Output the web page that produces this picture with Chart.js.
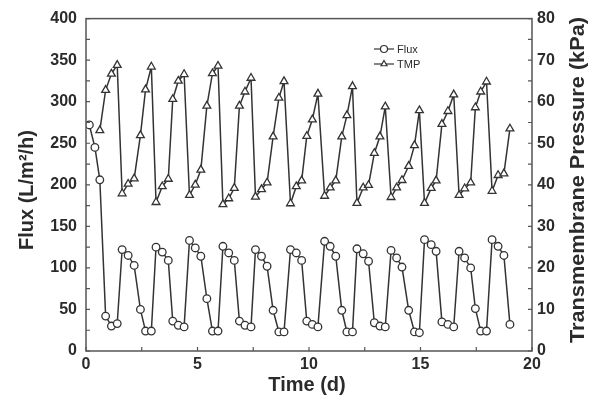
<!DOCTYPE html>
<html>
<head>
<meta charset="utf-8">
<script src="https://cdn.jsdelivr.net/npm/chart.js@4.4.1/dist/chart.umd.min.js"></script>
<style>
  html, body { margin: 0; padding: 0; background: #fff; }
  #wrap { width: 589px; height: 412px; }
</style>
</head>
<body>
<div id="wrap"><canvas id="chart"></canvas></div>
<script>
// sampling times (d), shared by both series
const timeDays = [
  0.15, 0.40, 0.62, 0.88, 1.14, 1.40, 1.62, 1.89, 2.16, 2.44, 2.67, 2.93,
  3.14, 3.42, 3.69, 3.89, 4.14, 4.40, 4.64, 4.90, 5.15, 5.42, 5.67, 5.92,
  6.14, 6.40, 6.65, 6.88, 7.13, 7.40, 7.60, 7.87, 8.12, 8.39, 8.65, 8.88,
  9.17, 9.43, 9.67, 9.90, 10.15, 10.40, 10.70, 10.95, 11.20, 11.47, 11.70, 11.95,
  12.15, 12.43, 12.67, 12.93, 13.18, 13.42, 13.68, 13.93, 14.17, 14.47, 14.73, 14.95,
  15.18, 15.48, 15.70, 15.96, 16.23, 16.49, 16.73, 16.98, 17.25, 17.46, 17.70, 17.96,
  18.21, 18.48, 18.74, 19.01
];
// Flux (L/m2/h)
const fluxValues = [
  272, 245, 206, 42, 30, 33, 122, 115, 103, 50, 24, 24,
  125, 119, 109, 36, 31, 29, 133, 124, 114, 63, 24, 24,
  126, 118, 109, 36, 31, 29, 122, 114, 102, 49, 23, 23,
  122, 118, 109, 36, 32, 29, 132, 126, 114, 49, 23, 23,
  123, 117, 108, 34, 30, 29, 121, 112, 101, 49, 23, 22,
  134, 128, 120, 35, 32, 29, 120, 112, 100, 51, 24, 24,
  134, 126, 115, 32
];
// TMP (kPa)
const tmpValues = [
  null, null, 53.1, 62.8, 66.7, 68.8, 37.9, 40.2, 41.5, 51.9, 62.9, 68.4,
  35.8, 39.6, 41.4, 60.6, 65.0, 66.6, 37.5, 40.0, 43.6, 59.0, 66.8, 68.6,
  35.3, 36.7, 39.2, 59.0, 62.4, 65.7, 37.1, 38.9, 40.5, 51.6, 60.9, 64.9,
  35.5, 39.6, 41.0, 51.7, 55.7, 61.9, 37.3, 39.3, 41.0, 51.6, 56.7, 63.7,
  35.6, 39.3, 39.9, 47.6, 51.6, 58.8, 37.0, 39.3, 41.1, 44.5, 49.5, 57.9,
  35.6, 39.2, 41.0, 54.6, 57.7, 61.7, 37.5, 39.1, 40.5, 58.6, 62.4, 64.8,
  38.5, 42.3, 42.7, 53.5
];
const seriesNames = ['Flux', 'TMP'];

const ink = '#2b2b2b';
const lineColor = '#333';
const tickFont = { family: 'Arial', size: 16, weight: 'bold' };

// frame, inward tick marks, axis titles and legend
const decorations = {
  id: 'decorations',
  afterDraw(chart) {
    const ctx = chart.ctx;
    const a = chart.chartArea;
    const sx = chart.scales.x, sy = chart.scales.y, sy1 = chart.scales.y1;
    ctx.save();
    ctx.strokeStyle = '#555';
    ctx.lineWidth = 1.5;
    ctx.strokeRect(a.left, a.top, a.right - a.left, a.bottom - a.top);

    ctx.lineWidth = 1.2;
    ctx.beginPath();
    for (let v = 0; v <= 20; v += 2.5) {
      const px = sx.getPixelForValue(v);
      ctx.moveTo(px, a.bottom); ctx.lineTo(px, a.bottom - 4);
    }
    for (let v = 0; v <= 400; v += 25) {
      const py = sy.getPixelForValue(v);
      ctx.moveTo(a.left, py); ctx.lineTo(a.left + 4, py);
    }
    for (let v = 0; v <= 80; v += 5) {
      const py = sy1.getPixelForValue(v);
      ctx.moveTo(a.right, py); ctx.lineTo(a.right - 4, py);
    }
    ctx.stroke();

    // axis titles
    ctx.fillStyle = ink;
    ctx.font = 'bold 20px Arial';
    ctx.textAlign = 'center';
    ctx.textBaseline = 'middle';
    ctx.fillText('Time (d)', 307, 385);

    ctx.save();
    ctx.translate(27, 190);
    ctx.rotate(-Math.PI / 2);
    ctx.fillText('Flux (L/m²/h)', 0, 0);
    ctx.restore();

    ctx.save();
    ctx.translate(578, 180);
    ctx.rotate(-Math.PI / 2);
    const rt = 'Transmembrane Pressure (kPa)';
    const w = ctx.measureText(rt).width;
    ctx.scale(326 / w, 1);
    ctx.fillText(rt, 0, 0);
    ctx.restore();

    // legend
    const rows = [
      { y: 49, style: 'circle', label: seriesNames[0] },
      { y: 64, style: 'triangle', label: seriesNames[1] }
    ];
    ctx.font = '11px Arial';
    ctx.textAlign = 'left';
    rows.forEach(r => {
      ctx.strokeStyle = lineColor;
      ctx.lineWidth = 1.2;
      ctx.beginPath();
      ctx.moveTo(374, r.y); ctx.lineTo(394, r.y);
      ctx.stroke();
      ctx.fillStyle = '#fff';
      Chart.helpers.drawPoint(ctx, { pointStyle: r.style, radius: 3.5, borderWidth: 1.2, rotation: 0 }, 384, r.y);
      ctx.fillStyle = ink;
      ctx.fillText(r.label, 397, r.y + 1);
    });
    ctx.restore();
  }
};

new Chart(document.getElementById('chart'), {
  type: 'line',
  data: {
    datasets: [
      {
        label: seriesNames[0],
        data: timeDays.map((t, i) => ({ x: t, y: fluxValues[i] })),
        yAxisID: 'y',
        borderColor: lineColor,
        borderWidth: 1.5,
        pointStyle: 'circle',
        pointRadius: 3.8,
        pointBorderWidth: 1.3,
        pointBackgroundColor: '#fff',
        pointBorderColor: lineColor,
        tension: 0
      },
      {
        label: seriesNames[1],
        data: timeDays.map((t, i) => ({ x: t, y: tmpValues[i] })),
        yAxisID: 'y1',
        borderColor: lineColor,
        borderWidth: 1.5,
        pointStyle: 'triangle',
        pointRadius: 4.5,
        pointBorderWidth: 1.3,
        pointBackgroundColor: '#fff',
        pointBorderColor: lineColor,
        tension: 0
      }
    ]
  },
  options: {
    responsive: true,
    maintainAspectRatio: false,
    animation: false,
    layout: { padding: { top: 16, left: 0, right: 0, bottom: 0 } },
    plugins: {
      legend: { display: false },
      tooltip: { enabled: false }
    },
    scales: {
      x: {
        type: 'linear',
        min: 0,
        max: 20,
        grid: { display: false, drawTicks: false },
        border: { display: false },
        ticks: { stepSize: 5, color: ink, font: tickFont, padding: 4, maxRotation: 0 },
        afterFit(scale) { scale.height = 61; }
      },
      y: {
        position: 'left',
        min: 0,
        max: 400,
        grid: { display: false, drawTicks: false },
        border: { display: false },
        ticks: { stepSize: 50, color: ink, font: tickFont, padding: 9 },
        afterFit(scale) { scale.width = 86; }
      },
      y1: {
        position: 'right',
        min: 0,
        max: 80,
        grid: { display: false, drawTicks: false },
        border: { display: false },
        ticks: { stepSize: 10, color: ink, font: tickFont, padding: 5 },
        afterFit(scale) { scale.width = 57; }
      }
    }
  },
  plugins: [decorations]
});
</script>
</body>
</html>
